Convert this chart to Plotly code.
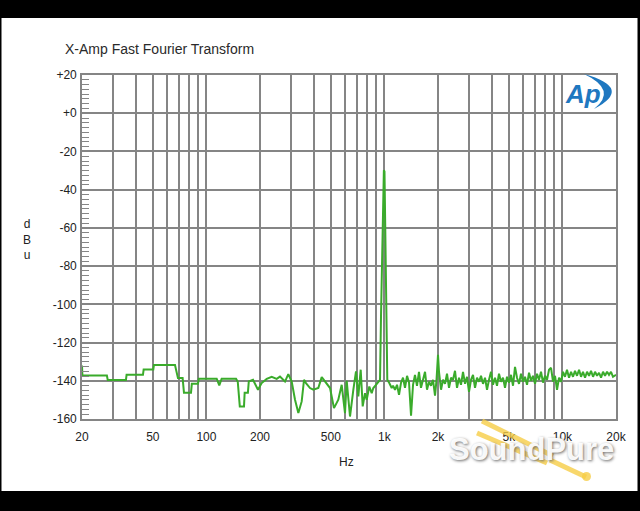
import plotly.graph_objects as go

# ---------------- data ----------------
freq_hz = [
    20, 20.1, 27.6, 27.9, 35.3, 35.6, 44.0, 44.4, 50.3, 50.7, 66.6, 69.2, 73.5, 74.8, 81.9, 82.8,
    89.7, 90.6, 114.2, 118.1, 121.8, 146.7, 150.0, 154.0, 162.6, 164.0, 171.0, 173.0, 182.7, 194.9,
    204.4, 218.2, 232.7, 248.2, 259.0, 276.4, 288.4, 301.4, 314.6, 328.4, 343.0, 353.4, 362.6, 382.0,
    398.6, 425.2, 444.4, 463.6, 494.8, 520.8, 550.8, 575.4, 600.6, 614, 640.8, 668.8, 692.4, 713.4,
    735.8, 755.2, 778, 795.2, 822.4, 848.4, 866.2, 897, 924, 944.6,
    957, 969, 982, 986, 993, 1001, 1014, 1027, 1038,
    1065, 1099, 1118, 1147, 1177, 1208, 1240, 1272, 1305, 1340, 1375, 1411, 1448, 1485, 1524, 1564,
    1605, 1648, 1691, 1735, 1781, 1827, 1875, 1924, 1962, 2000, 2026, 2080, 2134, 2190, 2247, 2306,
    2367, 2429, 2492, 2558, 2625, 2693, 2764, 2837, 2911, 2987, 3066, 3146, 3228, 3313, 3400, 3489,
    3580, 3674, 3770, 3869, 3971, 4075, 4181, 4291, 4403, 4519, 4637, 4759, 4883, 5012, 5143, 5278,
    5416, 5558, 5704, 5853, 6007, 6164, 6326, 6492, 6662, 6836, 7016, 7199, 7388, 7582, 7780, 7985,
    8194, 8408, 8630, 8856, 9088, 9326, 9570, 9820, 10080, 10340, 10610, 10890, 11180, 11470, 11770,
    12080, 12400, 12720, 13050, 13400, 13750, 14110, 14480, 14860, 15250, 15650, 16060, 16480, 16910,
    17350, 17810, 18270, 18750, 19240, 20000,
]
level_dbu = [
    -132.0, -137.3, -137.3, -139.6, -139.6, -136.9, -136.9, -134.1, -134.1, -131.8, -131.8, -138.6,
    -138.6, -146.2, -146.2, -141.6, -141.6, -138.9, -138.9, -142.4, -138.9, -138.9, -140.5, -153.4,
    -153.4, -146.3, -146.3, -140.4, -139.5, -144.7, -141.2, -139.0, -137.9, -139.0, -137.8, -140.4,
    -136.5, -140.4, -149.9, -156.9, -150.8, -139.5, -141.2, -143.8, -144.7, -143.8, -138.1, -140.4,
    -143.8, -154.3, -149.9, -142.1, -156.9, -140.0, -158.7, -144.7, -135.1, -148.2, -134.2, -153.4,
    -146.5, -149.9, -143.0, -146.5, -143.8, -142.1, -140.9, -139.5,
    -106, -73, -40, -30.5, -29.8, -30.5, -69, -108, -139.5,
    -141.2, -143.8, -142.6, -144.7, -142.1, -147.3, -141.0, -138.4, -143.7, -137.4, -141.0, -158.3,
    -142.1, -136.9, -142.6, -135.3, -143.7, -139.5, -135.3, -144.7, -140.5, -142.6, -139.5, -147.8,
    -139.5, -126.4, -135.3, -144.7, -139.5, -141.6, -136.3, -143.7, -138.4, -139.5, -134.8, -143.7,
    -138.4, -142.1, -135.3, -141.6, -137.9, -145.8, -139.5, -136.9, -143.7, -138.4, -140.5, -137.4,
    -141.6, -138.4, -144.7, -139.5, -135.3, -142.1, -138.4, -142.6, -136.3, -140.5, -138.4, -143.7,
    -137.9, -141.0, -136.9, -142.6, -132.7, -138.4, -141.6, -136.3, -140.5, -137.9, -142.1, -135.8,
    -140.0, -137.4, -141.6, -136.3, -139.5, -135.3, -141.0, -137.4, -139.5, -134.2, -133.2, -140.5,
    -137.4, -144.7, -138.4, -140.5, -135.3, -137.9, -134.2, -138.4, -135.3, -137.9, -134.8, -137.4,
    -134.2, -137.9, -135.3, -138.4, -135.3, -137.4, -134.8, -137.9, -135.3, -137.4, -135.8, -138.4,
    -135.3, -137.4, -135.3, -136.9, -135.3, -137.9, -136.9,
]

x_tick_vals = [20, 50, 100, 200, 500, 1000, 2000, 5000, 10000, 20000]
x_tick_text = ["20", "50", "100", "200", "500", "1k", "2k", "5k", "10k", "20k"]
x_minor_grid = [30, 40, 60, 70, 80, 90, 300, 400, 600, 700, 800, 900,
                3000, 4000, 6000, 7000, 8000, 9000]
y_tick_vals = [20, 0, -20, -40, -60, -80, -100, -120, -140, -160]
y_tick_text = ["+20", "+0", "-20", "-40", "-60", "-80", "-100", "-120", "-140", "-160"]

# ---------------- layout geometry ----------------
W, H = 640, 511
L, R, T, B = 82, 24, 75, 92
PW, PH = W - L - R, H - T - B


def px(X):
    return (X - L) / PW


def py(Y):
    return (H - B - Y) / PH


GRID = "#858585"
FONT = "Liberation Sans, Arial, sans-serif"
TXT = "#222222"
FORK = "rgba(246,205,70,0.8)"

fig = go.Figure()
fig.add_trace(go.Scatter(
    x=freq_hz, y=level_dbu, mode="lines",
    line=dict(color="#3aab2b", width=2),
    hoverinfo="skip",
))

fig.update_layout(
    width=W, height=H, autosize=False,
    margin=dict(l=L, r=R, t=T, b=B, autoexpand=False),
    paper_bgcolor="black", plot_bgcolor="white",
    showlegend=False,
    font=dict(family=FONT, size=12, color=TXT),
    title=dict(
        text="X-Amp Fast Fourier Transform",
        xref="container", yref="container",
        x=65 / W, xanchor="left", y=1 - 49 / H, yanchor="middle",
        font=dict(family=FONT, size=14, color="#2a2a2a"),
    ),
)

fig.update_xaxes(
    type="log", range=[1.30103, 4.30103],
    tickmode="array", tickvals=x_tick_vals, ticktext=x_tick_text,
    ticks="", showgrid=True, gridcolor=GRID, gridwidth=1.6,
    minor=dict(tickmode="array", tickvals=x_minor_grid, showgrid=True,
               gridcolor=GRID, gridwidth=1.6, ticks=""),
    showline=True, linecolor=GRID, linewidth=1.6, mirror=True,
    zeroline=False, ticklabelstandoff=6,
    tickfont=dict(family=FONT, size=12, color=TXT),
)
fig.update_yaxes(
    range=[-160, 20],
    tickmode="array", tickvals=y_tick_vals, ticktext=y_tick_text,
    ticks="inside", ticklen=7, tickcolor=GRID, tickwidth=1.2,
    showgrid=True, gridcolor=GRID, gridwidth=1.6,
    minor=dict(dtick=2.5, ticks="inside", ticklen=7, tickcolor=GRID,
               tickwidth=1.2, showgrid=False),
    showline=True, linecolor=GRID, linewidth=1.6, mirror=True,
    zeroline=False, ticklabelstandoff=1,
    tickfont=dict(family=FONT, size=12, color=TXT),
)


def note(text, X, Y, font):
    return dict(text=text, x=px(X), y=py(Y), xref="paper", yref="paper",
                xanchor="center", yanchor="middle", showarrow=False,
                align="center", font=font)


annotations = [
    note("Hz", 346, 462, dict(family=FONT, size=12, color=TXT)),
    note("d<br>B<br>u", 27, 239, dict(family=FONT, size=12, color=TXT)),
    note("<b><i>Ap</i></b>", 583, 94, dict(family=FONT, size=26, color="#1f78c0")),
    note("<b>SoundPure</b>", 531, 449,
         dict(family=FONT, size=31, color="rgba(255,255,255,0.95)",
              shadow="1px 1px 3px #666")),
]

shapes = [
    # white page of the screenshot (black bands around it come from the paper colour)
    dict(type="rect", xref="paper", yref="paper", x0=px(1.5), x1=px(637.5), y0=py(491), y1=py(18),
         fillcolor="white", line=dict(width=0), layer="below"),
    # Ap logo crescent
    dict(type="path", xref="paper", yref="paper", layer="above",
         path=(f"M {px(584)},{py(74)} Q {px(634)},{py(88)} {px(594)},{py(109)} "
               f"Q {px(618)},{py(90)} {px(584)},{py(74)} Z"),
         fillcolor="#1f78c0", line=dict(width=0)),
    # tuning fork of the watermark
    dict(type="line", xref="paper", yref="paper", layer="above",
         x0=px(482), y0=py(421), x1=px(553), y1=py(456),
         line=dict(color=FORK, width=5)),
    dict(type="line", xref="paper", yref="paper", layer="above",
         x0=px(477), y0=py(433), x1=px(547), y1=py(463),
         line=dict(color=FORK, width=5)),
    dict(type="line", xref="paper", yref="paper", layer="above",
         x0=px(550), y0=py(460), x1=px(586), y1=py(477),
         line=dict(color=FORK, width=5)),
    dict(type="circle", xref="paper", yref="paper", layer="above",
         x0=px(582), y0=py(481), x1=px(591), y1=py(472),
         fillcolor=FORK, line=dict(width=0)),
]

fig.update_layout(annotations=annotations, shapes=shapes)

fig.write_html("out.html", config={"displayModeBar": False},
               post_script="document.body.style.margin='0px';")
